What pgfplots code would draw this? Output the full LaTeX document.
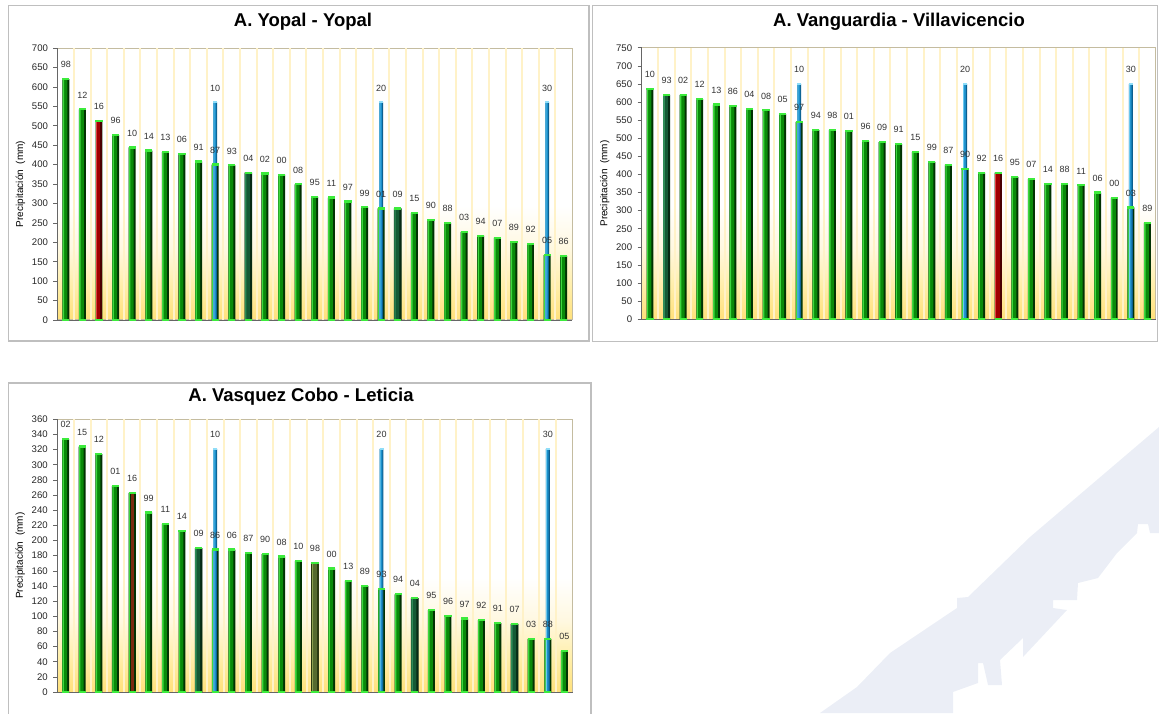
\documentclass[border=0pt]{standalone}
\usepackage{fontspec}
\setmainfont{Liberation Sans}
\usepackage{pgfplots}
\usepackage{pgfplotstable}
\pgfplotsset{compat=1.18}

\definecolor{gridy}{HTML}{FFF2C8}
\definecolor{bgy}{HTML}{FFE07A}
\definecolor{bgyb}{HTML}{FFEEA8}
\definecolor{bgyc}{HTML}{FFF8E0}
\definecolor{gL}{HTML}{3FD83F}
\definecolor{gM}{HTML}{0A8A0A}
\definecolor{gR}{HTML}{023202}
\definecolor{bL}{HTML}{6CC8EE}
\definecolor{bM}{HTML}{1B8FCB}
\definecolor{bR}{HTML}{0D5F8E}
\definecolor{rL}{HTML}{E04040}
\definecolor{rM}{HTML}{A00000}
\definecolor{rR}{HTML}{4A0000}
\definecolor{dL}{HTML}{2E8B57}
\definecolor{dM}{HTML}{155A35}
\definecolor{dR}{HTML}{062A14}
\definecolor{oL}{HTML}{8AA050}
\definecolor{oM}{HTML}{556B2F}
\definecolor{oR}{HTML}{2B3A12}
\definecolor{brM}{HTML}{7A2A10}
\definecolor{cap}{HTML}{3CEB3C}
\definecolor{bcap}{HTML}{8FDDF8}
\definecolor{frame}{HTML}{BFBFBF}
\definecolor{plotframe}{HTML}{C4BCA0}
\definecolor{logo}{HTML}{EBEEF6}
\definecolor{lbl}{HTML}{333333}

\pgfdeclareverticalshading{bgshade}{100bp}{color(0bp)=(bgy); color(25bp)=(bgy); color(31bp)=(bgyb); color(38bp)=(bgyc); color(46bp)=(white); color(100bp)=(white)}

\pgfplotsset{
  panel/.style={
    scale only axis, anchor=south west,
    xmin=0.5, xmax=31.5, ymin=0,
    axis lines*=left,
    axis line style={draw=black!60, line width=0.8pt},
    axis background/.style={shading=bgshade, draw=plotframe, line width=1pt},
    xtick={1.5,2.5,...,30.5}, xticklabels={}, xmajorgrids,
    grid style={draw=gridy, line width=2pt},
    x tick style={draw=none},
    y tick style={draw=black!60, line width=0.6pt},
    tick align=outside, major tick length=4pt,
    tick label style={font=\fontsize{9.6}{10}\selectfont, text=black!85},
    yticklabel style={xshift=-2pt},
    /pgf/number format/assume math mode=true,
    ylabel={Precipitación\ \ (mm)},
    every axis y label/.style={at={(axis description cs:0,0.5)}, xshift=-37pt, rotate=90, anchor=center, font=\fontsize{10}{11}\selectfont},
    clip=false,
  },
  caps/.style={only marks, mark=-, mark size=3.6pt, mark options={draw=cap, line width=2.2pt}},
  bcaps/.style={only marks, mark=-, mark size=2pt, mark options={draw=bcap, line width=2pt}},
  labs/.style={draw=none, nodes near coords, point meta=explicit symbolic,
    every node near coord/.style={anchor=south, yshift=11pt, inner sep=0pt, font=\fontsize{9}{10}\selectfont, text=lbl}},
}

% layered bars: table, left, middle, right colours, full width, mid width, mid shift, strip width, strip shift
\newcommand{\shadedbars}[9]{%
  \addplot[ybar, bar shift=0, bar width=#5, draw=none, fill=#4] table[x=x,y=y] {#1};
  \addplot[ybar, bar shift=#7, bar width=#6, draw=none, fill=#3] table[x=x,y=y] {#1};
  \addplot[ybar, bar shift=#9, bar width=#8, draw=none, fill=#2] table[x=x,y=y] {#1};
}
\newcommand{\greenbars}[1]{\shadedbars{#1}{gL}{gM}{gR}{0.42}{0.26}{-0.04}{0.085}{-0.15}}
\newcommand{\redbars}[1]{\shadedbars{#1}{rL}{rM}{rR}{0.42}{0.26}{-0.04}{0.085}{-0.15}}
\newcommand{\darkbars}[1]{\shadedbars{#1}{dL}{dM}{dR}{0.46}{0.28}{-0.045}{0.09}{-0.165}}
\newcommand{\olivebars}[1]{\shadedbars{#1}{oL}{oM}{oR}{0.46}{0.28}{-0.045}{0.09}{-0.165}}
\newcommand{\brownbars}[1]{\shadedbars{#1}{gL}{brM}{gR}{0.42}{0.18}{0}{0.085}{-0.15}}
\newcommand{\bluebars}[1]{\shadedbars{#1}{bL}{bM}{bR}{0.24}{0.14}{-0.02}{0.06}{-0.08}}

% ---------- data ----------
\pgfplotstableread{
x y lab
1 620 98
2 542 12
3 512 16
4 476 96
5 444 10
6 436 14
7 432 13
8 427 06
9 408 91
10 400 87
11 398 93
12 379 04
13 377 02
14 374 00
15 349 08
16 317 95
17 315 11
18 305 97
19 290 99
20 287 01
21 287 09
22 276 15
23 258 90
24 250 88
25 227 03
26 217 94
27 212 07
28 200 89
29 195 92
30 167 05
31 165 86
}\yopal
\pgfplotstableread{
x y
3 512
}\yopalred
\pgfplotstableread{
x y
12 379
21 287
}\yopaldark
\pgfplotstableread{
x y lab
10 560 10
20 560 20
30 560 30
}\yopalref

\pgfplotstableread{
x y lab
1 637 10
2 620 93
3 620 02
4 608 12
5 593 13
6 589 86
7 580 04
8 577 08
9 567 05
10 545 97
11 523 94
12 523 98
13 520 01
14 492 96
15 489 09
16 484 91
17 462 15
18 435 99
19 427 87
20 416 90
21 405 92
22 405 16
23 393 95
24 388 07
25 374 14
26 374 88
27 370 11
28 350 06
29 335 00
30 309 03
31 267 89
}\villa
\pgfplotstableread{
x y
22 405
}\villared
\pgfplotstableread{
x y
2 620
}\villadark
\pgfplotstableread{
x y lab
10 650 10
20 650 20
30 650 30
}\villaref

\pgfplotstableread{
x y lab
1 334 02
2 324 15
3 314 12
4 272 01
5 263 16
6 237 99
7 222 11
8 213 14
9 190 09
10 188 86
11 188 06
12 184 87
13 182 90
14 179 08
15 173 10
16 170 98
17 163 00
18 147 13
19 140 89
20 136 93
21 129 94
22 124 04
23 108 95
24 100 96
25 97 97
26 95 92
27 91 91
28 90 07
29 70 03
30 70 88
31 54 05
}\leticia
\pgfplotstableread{
x y
5 263
}\leticiabrown
\pgfplotstableread{
x y
9 190
22 124
28 90
}\leticiadark
\pgfplotstableread{
x y
16 170
}\leticiaolive
\pgfplotstableread{
x y lab
10 321 10
20 321 20
30 321 30
}\leticiaref

\begin{document}
\begin{tikzpicture}
\useasboundingbox (0pt,0pt) rectangle (1159pt,713pt);

% faint background logo
\fill[logo] (1159pt,286pt) -- (1030pt,176pt) -- (968pt,116pt) -- (957pt,115pt) -- (957pt,105pt)
  -- (890pt,60pt) -- (857pt,26pt) -- (820pt,0pt) -- (953pt,0pt) -- (953pt,21pt) -- (978pt,30pt)
  -- (978pt,50pt) -- (983pt,50pt) -- (988pt,28pt) -- (1002pt,28pt) -- (1000pt,53pt) -- (1023pt,75pt)
  -- (1023pt,56pt) -- (1067pt,103pt) -- (1053pt,105pt) -- (1053pt,113pt) -- (1077pt,113pt)
  -- (1078pt,130pt) -- (1098pt,135pt) -- (1117pt,160pt) -- (1137pt,180pt) -- (1138pt,189pt)
  -- (1148pt,189pt) -- (1150pt,180pt) -- (1159pt,180pt) -- cycle;

% panel frames
\draw[frame, line width=1.2pt] (8.5pt,372pt) rectangle (589pt,707.3pt);
\draw[frame, line width=1.2pt] (592.5pt,371.5pt) rectangle (1157.5pt,707.3pt);
\draw[frame, line width=1.2pt] (8.5pt,-5pt) rectangle (591pt,330pt);

% titles
\node[font=\fontsize{18.5}{20}\selectfont\bfseries] at (303pt,691pt) {A. Yopal - Yopal};
\node[font=\fontsize{18.5}{20}\selectfont\bfseries] at (899pt,691pt) {A. Vanguardia - Villavicencio};
\node[font=\fontsize{18.5}{20}\selectfont\bfseries] at (301pt,316.3pt) {A. Vasquez Cobo - Leticia};

% ---- Panel 1: Yopal ----
\begin{axis}[panel, at={(57.5pt,393pt)}, width=514.5pt, height=272pt,
  ymax=700, ytick={0,50,...,700}]
  \greenbars{\yopal}
  \addplot[caps] table[x=x,y=y] {\yopal};
  \addplot[caps] table[x=x,y expr=0] {\yopal};
  \redbars{\yopalred}
  \darkbars{\yopaldark}
  \bluebars{\yopalref}
  \addplot[bcaps] table[x=x,y=y] {\yopalref};
  \addplot[labs] table[x=x,y=y,meta=lab] {\yopal};
  \addplot[labs] table[x=x,y=y,meta=lab] {\yopalref};
\end{axis}

% ---- Panel 2: Villavicencio ----
\begin{axis}[panel, at={(641.7pt,393.7pt)}, width=514pt, height=271.6pt,
  ymax=750, ytick={0,50,...,750}]
  \greenbars{\villa}
  \addplot[caps] table[x=x,y=y] {\villa};
  \addplot[caps] table[x=x,y expr=0] {\villa};
  \redbars{\villared}
  \darkbars{\villadark}
  \bluebars{\villaref}
  \addplot[bcaps] table[x=x,y=y] {\villaref};
  \addplot[labs] table[x=x,y=y,meta=lab] {\villa};
  \addplot[labs] table[x=x,y=y,meta=lab] {\villaref};
\end{axis}

% ---- Panel 3: Leticia ----
\begin{axis}[panel, at={(57.3pt,21pt)}, width=515.4pt, height=272.7pt,
  ymax=360, ytick={0,20,...,360}]
  \greenbars{\leticia}
  \addplot[caps] table[x=x,y=y] {\leticia};
  \addplot[caps] table[x=x,y expr=0] {\leticia};
  \brownbars{\leticiabrown}
  \darkbars{\leticiadark}
  \olivebars{\leticiaolive}
  \bluebars{\leticiaref}
  \addplot[bcaps] table[x=x,y=y] {\leticiaref};
  \addplot[labs] table[x=x,y=y,meta=lab] {\leticia};
  \addplot[labs] table[x=x,y=y,meta=lab] {\leticiaref};
\end{axis}
\end{tikzpicture}
\end{document}
